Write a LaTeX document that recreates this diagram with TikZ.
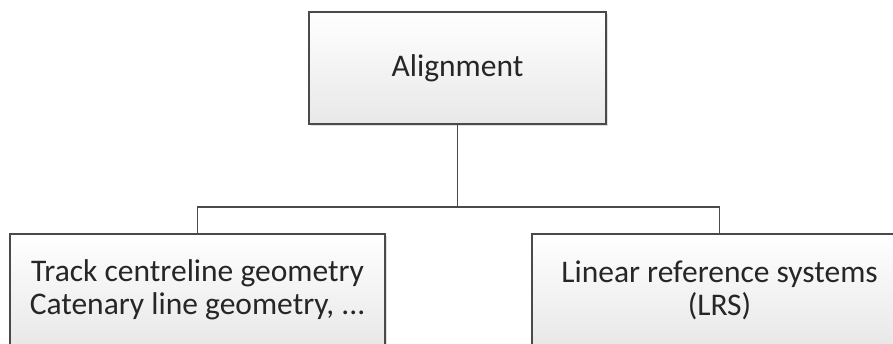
\documentclass[tikz,border=0pt]{standalone}
\usepackage{fontspec}
\setmainfont{Carlito}
\usetikzlibrary{shadows}
\definecolor{edge}{HTML}{4A4A4A}
\definecolor{txt}{HTML}{262626}
\tikzset{
  box/.style={draw=edge, line width=1.4pt, top color=white, bottom color=black!9,
    minimum width=297pt, minimum height=112pt, inner sep=0pt, align=center,
    text=txt, font=\fontsize{31.5}{33}\selectfont,
    drop shadow={shadow xshift=2pt, shadow yshift=-2pt, opacity=0.25}},
  wide/.style={minimum width=375pt},
  conn/.style={draw=edge, line width=1.4pt}
}
\begin{document}
\begin{tikzpicture}[x=1pt,y=-1pt]
\useasboundingbox (0,0) rectangle (893,343);
\clip (0,0) rectangle (893,343);
\node[box] (top) at (457.5,68) {Alignment};
\node[box,wide] (left) at (197.5,290) {Track centreline geometry\\Catenary line geometry, ...};
\node[box,wide] (right) at (719.5,290) {Linear reference systems\\(LRS)};
\coordinate (bus) at (457.5,207);
\draw[conn] (top.south) -- (bus);
\draw[conn] (bus) -| (left.north);
\draw[conn] (bus) -| (right.north);
\end{tikzpicture}
\end{document}
